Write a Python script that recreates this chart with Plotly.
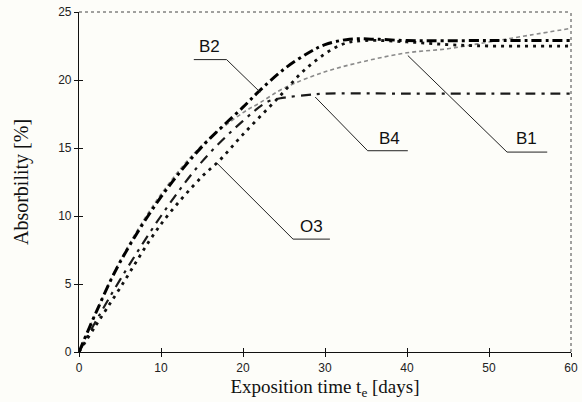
import plotly.graph_objects as go

# Data
x_b1 = [0, 2, 5, 10, 15, 20, 22, 25, 30, 35, 40, 45, 50, 55, 60]
y_b1 = [0, 2.8, 6.7, 11.6, 15.2, 17.6, 18.3, 19.4, 20.6, 21.4, 22.0, 22.3, 22.8, 23.3, 23.8]

x_b2 = [0, 2, 5, 10, 15, 20, 22, 25, 28, 30, 33, 36, 40, 50, 60]
y_b2 = [0, 2.8, 6.6, 11.4, 15.1, 18.0, 19.2, 20.8, 22.0, 22.6, 23.0, 23.0, 22.9, 22.9, 22.9]

x_b4 = [0, 2, 5, 10, 15, 20, 23, 25, 28, 30, 40, 50, 60]
y_b4 = [0, 2.2, 5.3, 10.0, 14.0, 17.0, 18.4, 18.7, 18.9, 19.0, 19.0, 19.0, 19.0]

x_o3 = [0, 2, 5, 10, 15, 17, 20, 24, 28, 32, 35, 40, 45, 50, 60]
y_o3 = [0, 1.9, 4.7, 9.4, 12.9, 14.0, 16.0, 18.5, 21.0, 22.6, 22.9, 22.8, 22.6, 22.5, 22.5]

x_ticks = [0, 10, 20, 30, 40, 50, 60]
y_ticks = [0, 5, 10, 15, 20, 25]

fig = go.Figure()
fig.add_trace(go.Scatter(x=x_b1, y=y_b1, mode="lines", name="B1",
                         line=dict(color="#8a8a8a", width=1.6, dash="4px,3px", shape="spline")))
fig.add_trace(go.Scatter(x=x_b4, y=y_b4, mode="lines", name="B4",
                         line=dict(color="#1a1a1a", width=2.2, dash="10px,6px,3px,6px", shape="spline")))
fig.add_trace(go.Scatter(x=x_o3, y=y_o3, mode="lines", name="O3",
                         line=dict(color="#111111", width=2.8, dash="3px,5px", shape="spline")))
fig.add_trace(go.Scatter(x=x_b2, y=y_b2, mode="lines", name="B2",
                         line=dict(color="#000000", width=3, dash="10px,4px,3px,4px", shape="spline")))

# Label leaders: (text, text_x, text_y, underline x0, x1, y, pointer x, y)
labels = [
    ("B2", 15.9, 22.5, 14.0, 18.0, 21.5, 22.1, 19.1),
    ("B4", 37.9, 15.7, 35.2, 40.1, 14.8, 28.8, 18.75),
    ("B1", 54.6, 15.7, 52.2, 57.1, 14.7, 40.1, 21.8),
    ("O3", 28.4, 9.2, 26.1, 30.6, 8.3, 16.8, 13.9),
]
for t, tx, ty, ux0, ux1, uy, px, py in labels:
    fig.add_shape(type="line", x0=ux0, x1=ux1, y0=uy, y1=uy, line=dict(color="#222", width=1))
    if t == "B2":
        fig.add_shape(type="line", x0=ux1, y0=uy, x1=px, y1=py, line=dict(color="#222", width=1))
    else:
        fig.add_shape(type="line", x0=ux0, y0=uy, x1=px, y1=py, line=dict(color="#222", width=1))
    fig.add_annotation(x=tx, y=ty, text=t, showarrow=False,
                       font=dict(family="Arial, Liberation Sans", size=17, color="#111"))

# dotted top & right frame
fig.add_shape(type="line", xref="paper", yref="paper", x0=0, x1=1, y0=1, y1=1,
              line=dict(color="#444", width=1, dash="dot"))
fig.add_shape(type="line", xref="paper", yref="paper", x0=1, x1=1, y0=0, y1=1,
              line=dict(color="#444", width=1, dash="dot"))

tickfont = dict(family="Arial, Liberation Sans", size=12, color="#222222")

fig.update_layout(
    template="none",
    width=582, height=402,
    margin=dict(l=79, r=11, t=12, b=50),
    paper_bgcolor="#fdfdf9", plot_bgcolor="#fdfdf9",
    showlegend=False,
    xaxis=dict(range=[0, 60], tickvals=x_ticks, showgrid=False, zeroline=False,
               showline=True, linecolor="#111", linewidth=1.2, automargin=False,
               ticks="outside", ticklen=4, tickcolor="#111", tickfont=tickfont,
               title=dict(text="Exposition time t<sub>e</sub> [days]", standoff=6,
                          font=dict(family="Times New Roman, Liberation Serif", size=19, color="#111"))),
    yaxis=dict(range=[0, 25], tickvals=y_ticks, showgrid=False, zeroline=False,
               showline=True, linecolor="#111", linewidth=1.2, automargin=False,
               ticks="outside", ticklen=4, tickcolor="#111", tickfont=tickfont,
               title=dict(text="Absorbility [%]", standoff=24,
                          font=dict(family="Times New Roman, Liberation Serif", size=20, color="#111"))),
    xaxis2=dict(range=[0, 60], tickvals=x_ticks, overlaying="x", side="bottom",
                showticklabels=False, ticks="inside", ticklen=4, tickcolor="#111",
                showgrid=False, zeroline=False, showline=False, anchor="y"),
    yaxis2=dict(range=[0, 25], tickvals=y_ticks, overlaying="y", side="left",
                showticklabels=False, ticks="inside", ticklen=4, tickcolor="#111",
                showgrid=False, zeroline=False, showline=False, anchor="x"),
)
# invisible trace to activate the secondary (inside-tick) axes
fig.add_trace(go.Scatter(x=[0], y=[0], xaxis="x2", yaxis="y2", mode="markers",
                         marker=dict(opacity=0), hoverinfo="skip", showlegend=False))

fig.write_html("out.html", config={"displayModeBar": False},
               post_script="document.body.style.margin='0px';")
